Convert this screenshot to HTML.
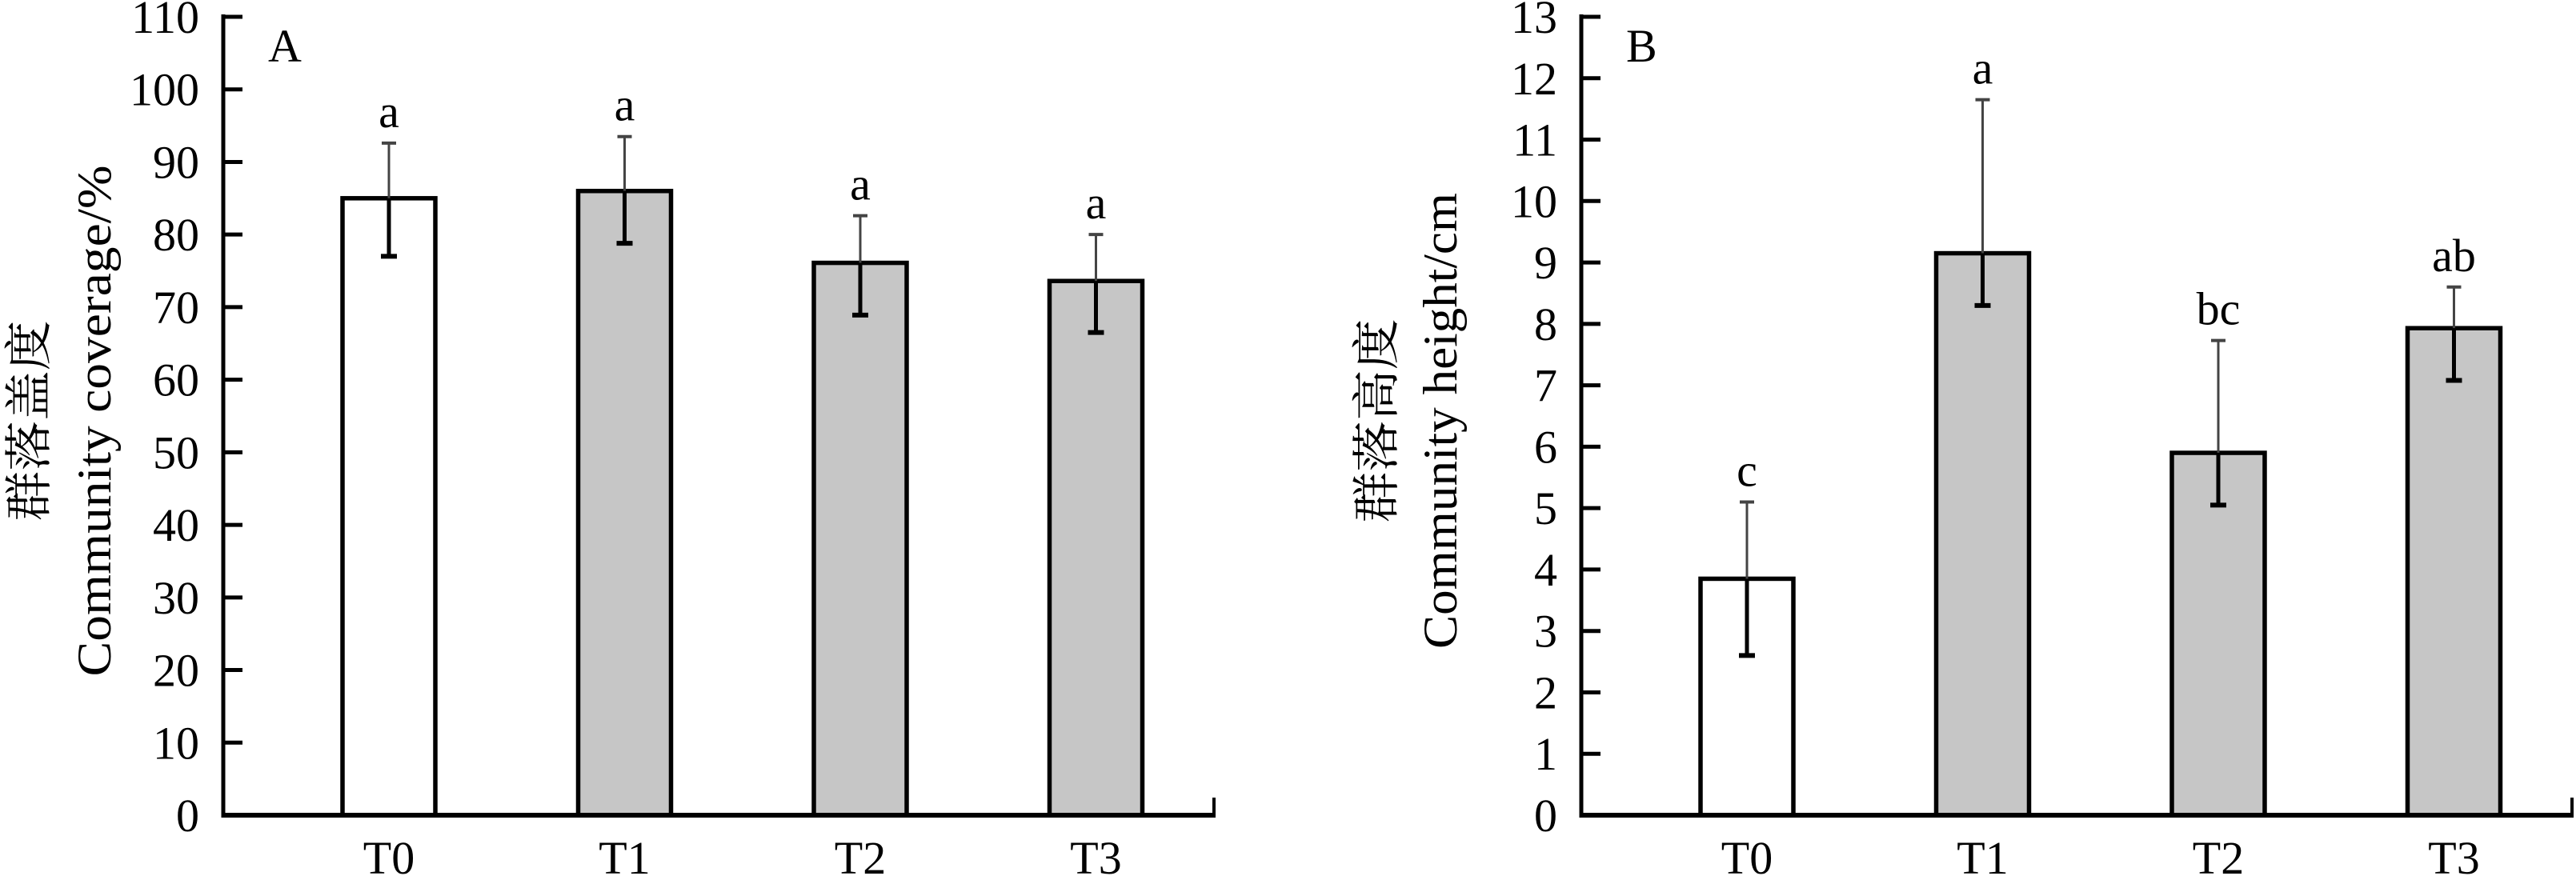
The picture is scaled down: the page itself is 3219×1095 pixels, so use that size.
<!DOCTYPE html>
<html><head><meta charset="utf-8"><style>
html,body{margin:0;padding:0;background:#fff;}
svg{display:block;font-family:"Liberation Serif","Noto Serif CJK SC",serif;}
</style></head><body>
<svg id="chart" width="3219" height="1095" viewBox="0 0 3219 1095" xmlns="http://www.w3.org/2000/svg"></svg>
<script>
const categories = ["T0","T1","T2","T3"];
const coverValues = [85, 86, 76.1, 73.6];
const coverErrHigh = [92.6, 93.5, 82.6, 80];
const coverErrLow = [77, 78.8, 68.9, 66.5];
const coverLetters = ["a","a","a","a"];
const coverTicks = [0,10,20,30,40,50,60,70,80,90,100,110];
const heightValues = [3.85, 9.15, 5.9, 7.93];
const heightErrHigh = [5.1, 11.65, 7.73, 8.6];
const heightErrLow = [2.6, 8.3, 5.05, 7.08];
const heightLetters = ["c","a","bc","ab"];
const heightTicks = [0,1,2,3,4,5,6,7,8,9,10,11,12,13];

const NS = "http://www.w3.org/2000/svg";
const svg = document.getElementById("chart");
function mk(tag, attrs, parent, text){
  const e = document.createElementNS(NS, tag);
  for (const k in attrs) e.setAttribute(k, attrs[k]);
  if (text !== undefined) e.textContent = text;
  (parent || svg).appendChild(e);
  return e;
}

function panel(cfg){
  const g = mk("g", {});
  
  
  const x0 = cfg.axisX, yZero = 1019, yTop = 21;
  const max = cfg.ticks[cfg.ticks.length-1];
  const y = v => yZero - (v / max) * (yZero - yTop);
  const xc = i => x0 + 207 + i * 294.5;
  const xEnd = x0 + 1240;

  categories.forEach((c, i) => {
    const r = mk("rect", {x: xc(i)-58, y: y(cfg.values[i]), width: 116, height: yZero - y(cfg.values[i]),
      fill: i === 0 ? "#ffffff" : "#c6c6c6", stroke: "#000", "stroke-width": 5.5}, g);
    
    
    const eu = mk("line", {x1: xc(i), x2: xc(i), y1: y(cfg.values[i]), y2: y(cfg.hi[i]), stroke: "#444", "stroke-width": 3}, g);
    
    
    const cu = mk("line", {x1: xc(i)-9, x2: xc(i)+9, y1: y(cfg.hi[i]), y2: y(cfg.hi[i]), stroke: "#444", "stroke-width": 4}, g);
    
    
    const el = mk("line", {x1: xc(i), x2: xc(i), y1: y(cfg.values[i]), y2: y(cfg.lo[i]), stroke: "#000", "stroke-width": 5}, g);
    
    
    const cl = mk("line", {x1: xc(i)-10, x2: xc(i)+10, y1: y(cfg.lo[i]), y2: y(cfg.lo[i]), stroke: "#000", "stroke-width": 6}, g);
    
    
    const lt = mk("text", {x: xc(i), y: y(cfg.hi[i]) - 20, "font-size": 58, "text-anchor": "middle"}, g, cfg.letters[i]);
    
    
    const xl = mk("text", {x: xc(i), y: 1092, "font-size": 58, "text-anchor": "middle"}, g, c);
    
    
  });

  const ya = mk("line", {x1: x0, x2: x0, y1: yTop - 3, y2: yZero + 3, stroke: "#000", "stroke-width": 5}, g);
  
  
  const xa = mk("line", {x1: x0 - 2.5, x2: xEnd, y1: yZero, y2: yZero, stroke: "#000", "stroke-width": 6}, g);
  
  
  const xe = mk("line", {x1: xEnd - 2, x2: xEnd - 2, y1: yZero, y2: yZero - 22, stroke: "#000", "stroke-width": 4}, g);
  
  

  cfg.ticks.forEach(t => {
    const tk = mk("line", {x1: x0, x2: x0 + 24, y1: y(t), y2: y(t), stroke: "#000", "stroke-width": 5}, g);
    
    
    const tl = mk("text", {x: x0 - 30, y: y(t) + 20, "font-size": 58, "text-anchor": "end"}, g, String(t));
    
    
  });

  const pl = mk("text", {x: x0 + 56, y: 77, "font-size": 58}, g, cfg.letter);
  
  

  const t1 = mk("text", {x: 0, y: 0, "font-size": 60, "text-anchor": "middle", textLength: cfg.cnLen, lengthAdjust: "spacingAndGlyphs",
    transform: "translate(" + (cfg.cnX + 24) + ",526) rotate(-90)"}, g, cfg.cn);
  
  
  const t2 = mk("text", {x: 0, y: 0, "font-size": 60, "text-anchor": "middle", textLength: cfg.enLen, lengthAdjust: "spacingAndGlyphs",
    transform: "translate(" + (cfg.enX + 20) + ",526) rotate(-90)"}, g, cfg.en);
  
  
}

panel({name: "panel-a-coverage", axisX: 279, ticks: coverTicks, values: coverValues, hi: coverErrHigh, lo: coverErrLow,
  letters: coverLetters, letter: "A", cn: "群落盖度", en: "Community coverage/%", cnX: 33, enX: 118, cnLen: 251, enLen: 639});
panel({name: "panel-b-height", axisX: 1976, ticks: heightTicks, values: heightValues, hi: heightErrHigh, lo: heightErrLow,
  letters: heightLetters, letter: "B", cn: "群落高度", en: "Community height/cm", cnX: 1717, enX: 1800, cnLen: 255, enLen: 570});
</script>
</body></html>
